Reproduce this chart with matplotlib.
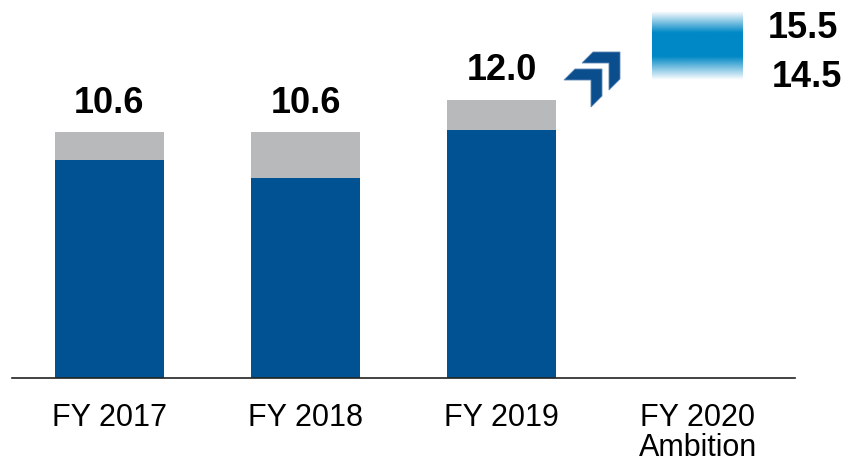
import numpy as np
import matplotlib.pyplot as plt
from matplotlib.patches import Polygon

plt.rcParams['font.family'] = ['Liberation Sans', 'DejaVu Sans']

# Data
categories = ['FY 2017', 'FY 2018', 'FY 2019', 'FY 2020\nAmbition']
base = [9.4, 8.6, 10.7]
top = [1.2, 2.0, 1.3]
totals = ['10.6', '10.6', '12.0']
ambition_low = 14.5
ambition_high = 15.5

BLUE = '#005293'
GRAY = '#B8B9BB'
LIGHT = '#0088C6'
W, H = 846, 463

fig = plt.figure(figsize=(W / 100, H / 100), dpi=100)
ax = fig.add_axes([12 / W, (H - 378) / H, (795 - 12) / W, 378 / H])

x = np.arange(len(base))
ax.bar(x, base, width=0.556, color=BLUE)
ax.bar(x, top, bottom=base, width=0.556, color=GRAY)
for xi, b, t, lab in zip(x, base, top, totals):
    ax.annotate(lab, xy=(xi, b + t), xytext=(0, 14), textcoords='offset points',
                ha='center', va='baseline', fontsize=26, fontweight='bold')

# ambition range box with vertical fade
n = 200
pos = np.linspace(0, 1, n)
alpha = np.ones(n)
alpha[pos < 0.31] = pos[pos < 0.31] / 0.31
alpha[pos > 0.66] = (1 - pos[pos > 0.66]) / 0.34
rgb = np.array(plt.matplotlib.colors.to_rgb(LIGHT))
img = np.zeros((n, 1, 4))
img[:, 0, :3] = rgb
img[:, 0, 3] = alpha
ax.imshow(img, extent=[3 - 0.23, 3 + 0.23, ambition_low - 1.66, ambition_high + 0.28],
          aspect='auto', origin='upper', zorder=2)
ax.text(3.717, ambition_high - 0.45, f'{ambition_high:.1f}', ha='right', va='center',
        fontsize=26, fontweight='bold', clip_on=False)
ax.text(3.735, ambition_low - 1.55, f'{ambition_low:.1f}', ha='right', va='center',
        fontsize=26, fontweight='bold', clip_on=False)

ax.set_xlim(-0.497, 3.497)
ax.set_ylim(0, 378 / 23.2)
ax.set_xticks(range(len(categories)))
ax.set_xticklabels(categories, fontsize=22, linespacing=1.02)
ax.tick_params(axis='x', length=0, pad=18)
ax.set_yticks([])
for s in ['top', 'right', 'left']:
    ax.spines[s].set_visible(False)
ax.spines['bottom'].set_color('#222222')
ax.spines['bottom'].set_linewidth(1.2)


# double chevron arrow
def chevron(cx, cy, L, t):
    pts = [(cx - L, cy), (cx, cy), (cx, cy + L), (cx - t, cy + L + t),
           (cx - t, cy + t), (cx - L - t, cy + t)]
    return [(px / W, 1 - py / H) for px, py in pts]


for cx, cy in [(620, 52), (602, 69)]:
    fig.add_artist(Polygon(chevron(cx, cy, 27, 11), closed=True, transform=fig.transFigure,
                           facecolor='#0B4E8E', edgecolor='#5F86B5', linewidth=0.6))

fig.savefig('out.png', dpi=100, facecolor='white')
